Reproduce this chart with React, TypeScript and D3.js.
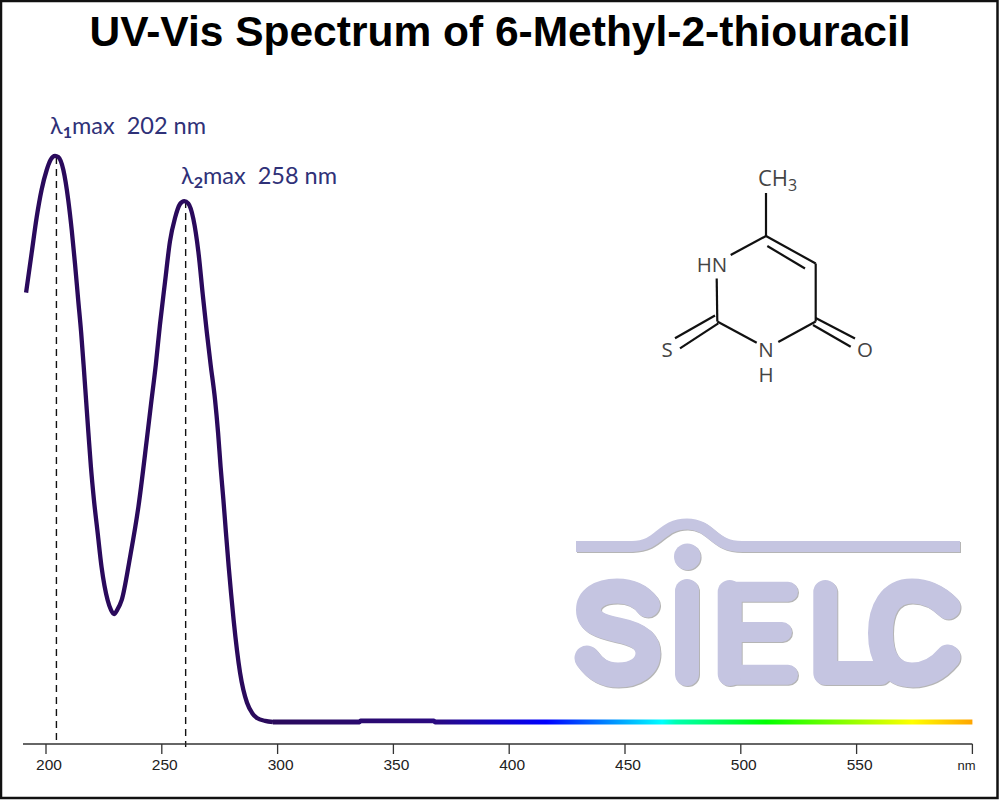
import React from "react";
import * as d3 from "d3";

const wavelengths = [191.4,193.8,196.0,198.1,200.3,202.0,203.9,205.3,207.5,209.6,211.1,212.5,213.9,215.2,216.3,217.3,218.3,219.4,220.7,222.3,224.0,226.6,228.1,229.4,230.7,232.7,236.3,239.9,243.5,245.3,247.4,249.2,251.4,253.5,255.7,257.9,259.7,261.4,263.6,265.8,267.7,269.4,271.1,273.0,274.3,275.4,276.6,277.7,278.9,279.9,281.0,283.8,286.8,289.0,291.1,294.6,298.0,320.0,335.4,335.8,367.5,368.0,400.0,450.0,500.0,550.0,600.0];
const absorbance = [0.76,0.83,0.894,0.942,0.977,0.995,1.002,1.0,0.977,0.924,0.871,0.812,0.747,0.688,0.628,0.57,0.512,0.451,0.393,0.335,0.274,0.216,0.198,0.191,0.198,0.216,0.292,0.381,0.499,0.561,0.632,0.703,0.779,0.85,0.892,0.917,0.922,0.918,0.891,0.832,0.756,0.691,0.632,0.57,0.512,0.451,0.393,0.335,0.274,0.228,0.181,0.087,0.034,0.016,0.007,0.002,0,0,0,0.002,0.002,0,0,0,0,0,0];
const tickValues = [200,250,300,350,400,450,500,550];
const peakLabels = [
  { n: "1", text: "202 nm", wl: 204.5, a: 1.0, lx: 50, ly: 134, end: 740 },
  { n: "2", text: "258 nm", wl: 260.3, a: 0.922, lx: 181, ly: 184, end: 747 },
];
const gradientNm = [300,368,416,466,472,511,574,600];
const gradientColors = ["#2a0a5c","#2a0a80","#0000ff","#00ffff","#00ffb0","#00ff00","#ffff00","#ffa500"];

const bonds = [
  "M766 193L766 236","M766 236L815.7 263.5","M767.3 246L805 268.5","M815.7 263.5L815.7 321.5",
  "M815.7 321.5L778.3 342","M756.7 342.7L717.3 321.5","M717.3 321.5L716.7 278.5","M766 236L730.7 255",
  "M815.7 318L855 338.5","M813 325L850.7 346.7","M715 315.5L675 338.3","M718.3 323.3L680 348.3",
];
const atoms = [
  { t: "HN", x: 712, y: 271.5 },
  { t: "S", x: 667, y: 357 },
  { t: "N", x: 766, y: 357 },
  { t: "H", x: 766, y: 382 },
  { t: "O", x: 865, y: 357 },
];

const logoLetters = [
  { d: "M647.5 605C640 595 630 591 617 591C599 591 588.5 599 588.5 610C588.5 622 600 626 618 630C638 634 648 641 648 653C648 667 635 675 618 675C603 675 594 668 587 658", w: 25 },
  { d: "M687 591L687 674", w: 24 },
  { d: "M788 591.7L730 591.7L730 674.7L788 674.7M730 632L782 632", w: 20 },
  { d: "M729.7 592L729.7 674", w: 24 },
  { d: "M825.3 592L825.3 673L880 673", w: 24 },
  { d: "M948 607C938 597 925 591 912 591C890 591 880.5 610 880.5 633C880.5 656 890 675 912 675C925 675 938 669 948 657", w: 25 },
];

export default function App() {
  const x = d3.scaleLinear().domain([200, 600]).range([46, 972.4]);
  const y = d3.scaleLinear().domain([0, 1]).range([722, 157]);
  const pts = wavelengths.map((w, i) => [w, absorbance[i]] as [number, number]);
  const line = d3.line<[number, number]>().x(d => x(d[0])).y(d => y(d[1])).curve(d3.curveMonotoneX);
  const axisY = 744;
  const logoColor = "#c5c5e1";
  return (
    <svg width={1000} height={800} viewBox="0 0 1000 800" style={{ position: "absolute", left: 0, top: 0, background: "#fff" }}>
      <defs>
        <linearGradient id="spec" gradientUnits="userSpaceOnUse" x1={x(300)} x2={x(600)} y1={0} y2={0}>
          {gradientNm.map((n, i) => (
            <stop key={n} offset={(n - 300) / 300} stopColor={gradientColors[i]} />
          ))}
        </linearGradient>
      </defs>
      <rect x={1} y={1} width={996.5} height={797} fill="#fff" stroke="#111" strokeWidth={2.5} />
      <text x={500} y={46} textAnchor="middle" fontFamily="'Liberation Sans'" fontWeight={700} fontSize={42.5} fill="#000">
        UV-Vis Spectrum of 6-Methyl-2-thiouracil
      </text>

      <g style={{ filter: "drop-shadow(1px 1.5px 0.7px #b5b5b5)" }} fill="none" stroke={logoColor} strokeLinecap="round" strokeLinejoin="round">
        <path d="M576 546.5L632 546.5C660 546.5 660 524 687 524C712 524 712 546.5 742 546.5L960 546.5" strokeWidth={11} strokeLinecap="butt" />
        <circle cx={687.3} cy={556.7} r={13.3} fill={logoColor} stroke="none" />
        {logoLetters.map((l, i) => <path key={i} d={l.d} strokeWidth={l.w} />)}
      </g>

      <g stroke="#111" strokeWidth={2.2} fill="none">
        {bonds.map((d, i) => <path key={i} d={d} />)}
      </g>
      <g fontFamily="'Open Sans'" fontSize={20.5} fill="#444" textAnchor="middle">
        {atoms.map((a, i) => <text key={i} x={a.x} y={a.y}>{a.t}</text>)}
        <text x={758} y={186} textAnchor="start" fontSize={22}>CH<tspan fontSize={16} dy={5}>3</tspan></text>
      </g>

      {peakLabels.map(p => (
        <line key={p.n} x1={x(p.wl)} x2={x(p.wl)} y1={y(p.a)} y2={p.end} stroke="#111" strokeWidth={1.4} strokeDasharray="7 5" />
      ))}
      <path d={line(pts.filter(d => d[0] <= 300)) || ""} fill="none" stroke="#2a0a5c" strokeWidth={4.3} />
      <path d={line(pts.filter(d => d[0] >= 298)) || ""} fill="none" stroke="url(#spec)" strokeWidth={4.8} />

      <g fontFamily="Lato" fontSize={23.5} fill="#2f3178">
        {peakLabels.map(p => (
          <text key={p.n} x={p.lx} y={p.ly}>λ<tspan fontSize={16} fontWeight={700} dy={4}>{p.n}</tspan><tspan dy={-4}>{"max\u00a0\u00a0" + p.text}</tspan></text>
        ))}
      </g>

      <line x1={23} x2={972.4} y1={axisY} y2={axisY} stroke="#333" strokeWidth={1.3} />
      <line x1={x(600)} x2={x(600)} y1={axisY} y2={axisY + 10} stroke="#333" strokeWidth={1.3} />
      {tickValues.map(t => (
        <g key={t}>
          <line x1={x(t)} x2={x(t)} y1={axisY} y2={axisY + 10} stroke="#333" strokeWidth={1.3} />
          <text x={x(t) + 3} y={770} textAnchor="middle" fontFamily="'Liberation Sans'" fontSize={15.5} fill="#222">{t}</text>
        </g>
      ))}
      <text x={966.5} y={770} textAnchor="middle" fontFamily="'Liberation Sans'" fontSize={13} fill="#222">nm</text>
    </svg>
  );
}
